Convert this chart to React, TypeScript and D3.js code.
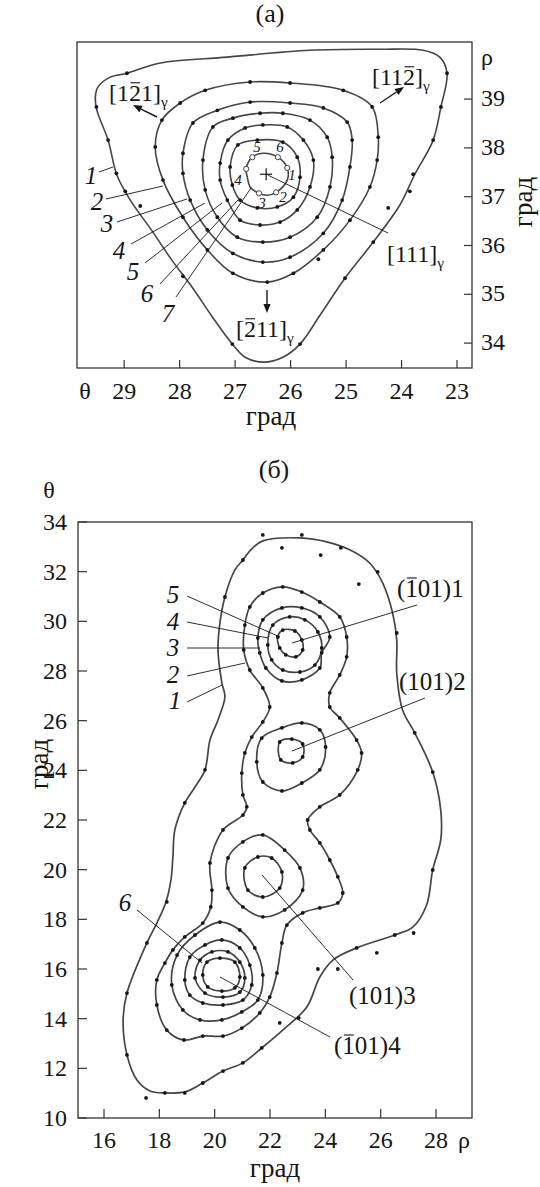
import React, { useLayoutEffect, useRef, useState } from 'react';
import * as d3 from 'd3';

type P = [number, number];

// ---------------- Panel (a): points are [theta, rho] in degrees ----------------
const aXTicks = [29, 28, 27, 26, 25, 24, 23];
const aYTicks = [34, 35, 36, 37, 38, 39];

const aContour1: P[] = [[29.52,39.04],[29.47,39.25],[29.25,39.45],[28.95,39.53],[28.35,39.74],[27.14,39.86],[25.65,40.0],[24.39,40.02],[23.61,40.0],[23.31,39.86],[23.18,39.53],[23.29,38.84],[23.43,38.16],[23.76,37.46],[24.03,36.83],[24.51,36.07],[25.02,35.33],[25.47,34.57],[25.83,33.98],[26.14,33.71],[26.48,33.61],[26.82,33.71],[27.05,33.98],[27.43,34.57],[27.74,35.09],[28.14,35.70],[28.51,36.32],[28.89,36.93],[29.13,37.44],[29.29,38.16],[29.49,38.77]];
const aContour2: P[] = [[28.44,38.02],[28.32,38.57],[27.99,38.92],[27.54,39.18],[26.73,39.35],[26.01,39.33],[25.05,39.18],[24.53,38.84],[24.42,38.22],[24.44,37.75],[24.57,37.20],[24.93,36.52],[25.41,35.91],[25.95,35.43],[26.42,35.25],[27.04,35.43],[27.50,35.91],[27.94,36.58],[28.30,37.34]];
const aContour3: P[] = [[27.94,37.89],[27.76,38.51],[27.32,38.77],[26.73,38.94],[26.01,38.92],[25.41,38.82],[24.98,38.53],[24.89,38.16],[24.93,37.61],[25.07,36.93],[25.41,36.25],[26.01,35.76],[26.50,35.66],[27.04,35.84],[27.50,36.32],[27.81,36.93],[27.94,37.48]];
const aContour4: P[] = [[27.58,37.75],[27.40,38.43],[27.04,38.61],[26.55,38.71],[26.14,38.71],[25.65,38.57],[25.34,38.22],[25.25,37.81],[25.29,37.20],[25.52,36.58],[26.01,36.17],[26.50,36.07],[26.96,36.17],[27.32,36.58],[27.54,37.14]];
const aContour5: P[] = [[27.27,37.69],[27.13,38.16],[26.82,38.41],[26.50,38.47],[26.06,38.43],[25.77,38.16],[25.59,37.75],[25.65,37.20],[25.88,36.73],[26.19,36.48],[26.55,36.42],[26.91,36.52],[27.14,36.93],[27.27,37.34]];
const aContour6: P[] = [[27.09,37.61],[26.95,38.06],[26.60,38.16],[26.14,38.12],[25.88,37.81],[25.83,37.40],[25.95,36.99],[26.24,36.79],[26.60,36.77],[26.91,36.93],[27.05,37.24]];
const aContour7: P[] = [[26.78,37.40],[26.80,37.57],[26.69,37.81],[26.50,37.89],[26.23,37.81],[26.06,37.59],[26.06,37.34],[26.26,37.09],[26.42,37.03],[26.57,37.07],[26.73,37.20]];

const aContour1Dots: P[] = [[28.95,39.53],[29.50,38.84],[29.29,38.16],[29.14,37.48],[28.98,37.11],[27.94,35.37],[27.05,33.98],[25.83,33.98],[25.02,35.33],[24.51,36.07],[23.85,37.11],[23.79,37.46],[23.43,38.16],[23.29,38.84],[23.18,39.53]];
const aExtraDots: P[] = [[28.71,36.81],[24.24,36.77],[25.50,35.72]];
const aMarkers: P[] = [[26.06,37.59],[26.26,37.09],[26.57,37.07],[26.80,37.57],[26.69,37.81],[26.23,37.81]];
const aMarkerNames = ['1', '2', '3', '4', '5', '6'];
const aCenter: P = [26.44, 37.46];

// ---------------- Panel (b): points are [rho, theta] in degrees ----------------
const bXTicks = [16, 18, 20, 22, 24, 26, 28];
const bYTicks = [10, 12, 14, 16, 18, 20, 22, 24, 26, 28, 30, 32, 34];

const bContour1: P[] = [[21.74,33.24],[23.08,33.36],[24.05,33.20],[24.88,32.88],[25.60,32.35],[26.07,31.55],[26.43,30.34],[26.58,29.25],[26.58,27.92],[26.79,26.43],[27.23,25.51],[27.88,23.93],[28.17,22.40],[28.17,21.20],[27.88,19.99],[27.66,18.58],[27.16,17.69],[26.51,17.37],[25.13,16.85],[24.27,16.36],[23.80,15.68],[23.33,14.47],[22.46,13.54],[21.70,12.82],[21.02,12.22],[20.30,11.89],[19.57,11.41],[18.92,11.05],[18.20,11.01],[17.66,11.09],[17.19,11.53],[16.83,12.54],[16.69,13.95],[16.83,15.03],[17.55,17.05],[17.91,17.85],[18.24,18.70],[18.42,19.59],[18.49,20.51],[18.56,21.60],[18.92,22.69],[19.29,23.33],[19.65,24.02],[19.83,25.22],[20.12,26.03],[20.37,26.96],[20.26,27.52],[20.12,28.85],[20.19,29.94],[20.37,30.98],[20.73,32.07],[21.02,32.47],[21.34,32.92]];
const bContour2: P[] = [[21.74,31.14],[22.46,31.39],[23.15,31.18],[23.80,30.78],[24.52,30.18],[24.77,29.37],[24.77,28.57],[24.52,27.84],[24.16,27.12],[24.16,26.55],[24.52,26.11],[25.13,25.22],[25.31,24.70],[25.17,24.02],[24.52,23.01],[23.80,22.53],[23.36,22.00],[23.44,21.60],[23.80,21.08],[24.16,20.39],[24.45,19.71],[24.63,19.06],[24.45,18.66],[23.80,18.46],[23.18,18.26],[22.61,17.77],[22.43,17.05],[22.25,15.84],[21.99,14.87],[21.63,14.23],[20.98,13.62],[20.30,13.30],[19.57,13.30],[18.89,13.14],[18.27,13.54],[17.91,14.55],[17.91,15.56],[18.20,16.24],[18.49,16.77],[18.92,17.29],[19.57,17.85],[19.86,18.50],[19.90,19.18],[19.83,20.27],[20.30,21.60],[21.02,22.20],[21.16,22.53],[21.02,23.01],[20.98,23.89],[21.09,24.70],[21.34,25.34],[21.74,25.95],[21.99,26.55],[21.74,27.32],[21.27,28.04],[21.05,28.85],[21.09,29.85],[21.27,30.58]];
const bPeak1Ring3: P[] = [[21.56,29.33],[21.74,30.06],[22.43,30.54],[23.15,30.54],[23.80,30.18],[24.16,29.37],[23.87,28.73],[23.80,28.12],[23.15,27.64],[22.43,27.60],[21.85,28.12],[21.63,28.73]];
const bPeak1Ring4: P[] = [[21.92,29.05],[22.10,29.85],[22.71,30.18],[23.26,30.06],[23.73,29.57],[23.87,28.93],[23.62,28.24],[23.08,27.96],[22.46,28.04],[22.06,28.45]];
const bPeak1Ring5: P[] = [[22.28,29.37],[22.46,29.65],[22.90,29.61],[23.15,29.25],[23.18,28.85],[22.93,28.57],[22.57,28.65],[22.35,28.93]];
const bPeak2Ring3: P[] = [[21.70,25.30],[22.43,25.71],[23.15,25.91],[23.80,25.63],[24.01,24.94],[23.80,24.02],[23.15,23.49],[22.43,23.17],[21.74,23.53],[21.52,24.34]];
const bPeak2Ring4: P[] = [[22.35,25.14],[22.79,25.26],[23.18,25.06],[23.18,24.54],[22.82,24.30],[22.39,24.42]];
const bPeak3Ring3: P[] = [[20.48,20.47],[21.02,21.12],[21.74,21.40],[22.53,20.79],[23.08,20.07],[23.18,19.18],[22.53,18.38],[21.74,18.10],[21.02,18.50],[20.48,19.26]];
const bPeak3Ring4: P[] = [[21.09,20.07],[21.56,20.51],[22.06,20.47],[22.43,19.91],[22.35,19.26],[21.74,18.90],[21.20,19.18]];
const bPeak4Ring3: P[] = [[18.45,15.36],[18.64,16.56],[19.29,17.37],[20.19,17.89],[20.91,17.57],[21.45,16.85],[21.74,15.76],[21.56,14.75],[20.98,14.27],[20.26,13.95],[19.47,13.95],[18.85,14.35]];
const bPeak4Ring4: P[] = [[18.92,15.56],[19.10,16.48],[19.65,16.97],[20.26,17.17],[20.91,16.85],[21.27,16.16],[21.34,15.36],[21.02,14.75],[20.30,14.55],[19.57,14.63],[19.10,14.95]];
const bPeak4Ring5: P[] = [[19.29,15.64],[19.47,16.36],[19.90,16.69],[20.48,16.69],[20.91,16.28],[21.09,15.64],[20.91,15.07],[20.30,14.87],[19.65,15.03]];
const bPeak4Ring6: P[] = [[19.57,15.76],[19.72,16.28],[20.19,16.44],[20.73,16.28],[20.91,15.68],[20.73,15.24],[20.26,15.11],[19.75,15.28]];

const bContour1Dots: P[] = [[21.02,32.47],[20.37,30.98],[19.65,24.02],[18.92,22.69],[18.27,18.70],[17.55,17.05],[16.83,15.03],[16.83,12.54],[18.20,11.01],[18.92,11.01],[19.57,11.41],[20.30,11.89],[21.02,12.22],[21.70,12.82],[25.13,16.85],[26.51,17.37],[27.88,19.99],[27.88,23.93],[27.23,25.51],[26.58,29.53]];
const bExtraDots: P[] = [[21.74,33.48],[23.15,33.48],[22.43,32.96],[24.56,32.96],[23.83,32.67],[25.89,31.99],[25.21,31.50],[23.73,16.00],[24.45,16.00],[25.86,16.65],[27.19,17.45],[22.35,13.83],[23.04,14.03],[17.52,10.81]];

const FONT = 'Liberation Serif, DejaVu Serif, Times New Roman, serif';
const INK = '#161616';
const CURVE = '#454545';

// Text with overbars on selected character indexes (measured after layout)
function Miller({ x, y, text, bars, sub, size }: { x: number; y: number; text: string; bars: number[]; sub?: string; size: number }) {
  const ref = useRef<SVGTextElement>(null);
  const [segs, setSegs] = useState<[number, number][]>([]);
  useLayoutEffect(() => {
    const el = ref.current;
    if (!el) return;
    try {
      const s = bars.map(i => {
        const a = el.getStartPositionOfChar(i).x;
        const b = el.getEndPositionOfChar(i).x;
        return [a + size * 0.06, b - size * 0.04] as [number, number];
      });
      setSegs(s);
    } catch (e) {
      setSegs([]);
    }
  }, [text, size]);
  const barY = y - size * 0.76;
  return (
    <g>
      <text ref={ref} x={x} y={y} fontSize={size} style={{ fontFamily: FONT }} fill={INK}>
        {text}
        {sub ? <tspan fontSize={size * 0.64} dy={size * 0.24}>{sub}</tspan> : null}
      </text>
      {segs.map((s, i) => (
        <line key={i} x1={s[0]} x2={s[1]} y1={barY} y2={barY} stroke={INK} strokeWidth={1.1} />
      ))}
    </g>
  );
}

function Arrow({ x1, y1, x2, y2 }: { x1: number; y1: number; x2: number; y2: number }) {
  const ang = Math.atan2(y2 - y1, x2 - x1);
  const L = 9, Wd = 3.6;
  const bx = x2 - L * Math.cos(ang), by = y2 - L * Math.sin(ang);
  const px = -Math.sin(ang) * Wd, py = Math.cos(ang) * Wd;
  return (
    <g>
      <line x1={x1} y1={y1} x2={bx} y2={by} stroke={INK} strokeWidth={1.4} />
      <polygon points={`${x2},${y2} ${bx + px},${by + py} ${bx - px},${by - py}`} fill={INK} />
    </g>
  );
}

export default function App() {
  const ax = d3.scaleLinear().domain([29.85, 22.73]).range([77, 472]);
  const ay = d3.scaleLinear().domain([33.49, 40.17]).range([368, 42]);
  const bx = d3.scaleLinear().domain([15.06, 29.3]).range([78, 472]);
  const by = d3.scaleLinear().domain([10, 34]).range([1118, 522]);

  const curve = d3.curveCatmullRomClosed.alpha(0.5);
  const aLine = d3.line<P>().x(d => ax(d[0])).y(d => ay(d[1])).curve(curve);
  const bLine = d3.line<P>().x(d => bx(d[0])).y(d => by(d[1])).curve(curve);

  const aRings = [aContour1, aContour2, aContour3, aContour4, aContour5, aContour6, aContour7];
  const aRingDots = [aContour2, aContour3, aContour4, aContour5, aContour6];
  const bRings = [bContour1, bContour2, bPeak1Ring3, bPeak1Ring4, bPeak1Ring5, bPeak2Ring3, bPeak2Ring4, bPeak3Ring3, bPeak3Ring4, bPeak4Ring3, bPeak4Ring4, bPeak4Ring5, bPeak4Ring6];
  const bRingDots = bRings.slice(1);

  const [ax0, ax1] = ax.range();
  const [ay0, ay1] = ay.range();
  const [bx0, bx1] = bx.range();
  const [by0, by1] = by.range();

  const tickFs = 24;
  const titleFs = 27;
  const numFs = 25;

  const aLabels = [
    { t: '1', x: 91, y: 176, lx1: 99, ly1: 172, lx2: 113, ly2: 167 },
    { t: '2', x: 97, y: 202, lx1: 106, ly1: 199, lx2: 163, ly2: 186 },
    { t: '3', x: 107, y: 224, lx1: 117, ly1: 222, lx2: 187, ly2: 199 },
    { t: '4', x: 119, y: 251, lx1: 131, ly1: 244, lx2: 205, ly2: 203 },
    { t: '5', x: 133, y: 272, lx1: 145, ly1: 263, lx2: 222, ly2: 203 },
    { t: '6', x: 147, y: 294, lx1: 160, ly1: 284, lx2: 238, ly2: 200 },
    { t: '7', x: 168, y: 314, lx1: 176, ly1: 297, lx2: 251, ly2: 188 },
  ];
  const aMarkerLabelPos = [[292, 175], [283, 197], [262, 203], [238, 180], [257, 147], [280, 147]];

  const bLabels = [
    { t: '5', x: 173, y: 595, lx1: 187, ly1: 596, lx2: 280, ly2: 637 },
    { t: '4', x: 173, y: 622, lx1: 187, ly1: 622, lx2: 268, ly2: 638 },
    { t: '3', x: 173, y: 648, lx1: 187, ly1: 648, lx2: 260, ly2: 648 },
    { t: '2', x: 173, y: 675, lx1: 187, ly1: 676, lx2: 245, ly2: 663 },
    { t: '1', x: 175, y: 701, lx1: 187, ly1: 702, lx2: 222, ly2: 685 },
    { t: '6', x: 125, y: 903, lx1: 137, ly1: 910, lx2: 202, ly2: 963 },
  ];

  const acx = ax(aCenter[0]);
  const acy = ay(aCenter[1]);
  const tf = { fontFamily: FONT };

  return (
    <svg width={540} height={1187} style={{ position: 'absolute', left: 0, top: 0, background: '#fff', fontFamily: FONT }}>
      <rect x={0} y={0} width={540} height={1187} fill="#fff" />

      {/* ================= Panel (a) ================= */}
      <text x={270} y={22} textAnchor="middle" fontSize={26} style={tf} fill={INK}>(а)</text>
      <rect x={ax0} y={ay1} width={ax1 - ax0} height={ay0 - ay1} fill="none" stroke="#333" strokeWidth={1.3} />
      {aXTicks.map(t => (
        <g key={'axt' + t}>
          <line x1={ax(t)} x2={ax(t)} y1={ay0} y2={ay0 - 8} stroke="#333" strokeWidth={1.2} />
          <text x={ax(t)} y={399} textAnchor="middle" fontSize={tickFs} style={tf} fill={INK}>{t}</text>
        </g>
      ))}
      {aYTicks.map(t => (
        <g key={'ayt' + t}>
          <line x1={ax1} x2={ax1 - 8} y1={ay(t)} y2={ay(t)} stroke="#333" strokeWidth={1.2} />
          <text x={481} y={ay(t) + 7} fontSize={tickFs} style={tf} fill={INK}>{t}</text>
        </g>
      ))}
      <text x={85} y={399} textAnchor="middle" fontSize={tickFs} style={tf} fill={INK}>θ</text>
      <text x={481} y={65} fontSize={tickFs} style={tf} fill={INK}>ρ</text>
      <text x={271} y={425} textAnchor="middle" fontSize={titleFs} style={tf} fill={INK}>град</text>
      <text transform="translate(524,202) rotate(-90)" textAnchor="middle" dy="0.3em" fontSize={titleFs} style={tf} fill={INK}>град</text>

      {aRings.map((r, i) => (
        <path key={'ar' + i} d={aLine(r) || ''} fill="none" stroke={CURVE} strokeWidth={1.6} />
      ))}
      {aRingDots.flat().concat(aContour1Dots, aExtraDots).map((p, i) => (
        <circle key={'ad' + i} cx={ax(p[0])} cy={ay(p[1])} r={1.9} fill={INK} />
      ))}
      {aMarkers.map((p, i) => (
        <circle key={'am' + i} cx={ax(p[0])} cy={ay(p[1])} r={2.6} fill="#fff" stroke="#444" strokeWidth={1} />
      ))}
      {aMarkerNames.map((n, i) => (
        <text key={'amn' + i} x={aMarkerLabelPos[i][0]} y={aMarkerLabelPos[i][1] + 5} textAnchor="middle" fontSize={15} fontStyle="italic" style={tf} fill={INK}>{n}</text>
      ))}
      <line x1={acx - 6} x2={acx + 6} y1={acy} y2={acy} stroke={INK} strokeWidth={1.2} />
      <line x1={acx} x2={acx} y1={acy - 6} y2={acy + 6} stroke={INK} strokeWidth={1.2} />
      <line x1={acx + 2} y1={acy + 1} x2={388} y2={233} stroke={INK} strokeWidth={0.9} />
      <Miller x={387} y={262} text="[111]" bars={[]} sub="γ" size={24} />

      {aLabels.map(l => (
        <g key={'al' + l.t}>
          <text x={l.x} y={l.y + 8} textAnchor="middle" fontSize={numFs} fontStyle="italic" style={tf} fill={INK}>{l.t}</text>
          <line x1={l.lx1} y1={l.ly1} x2={l.lx2} y2={l.ly2} stroke={INK} strokeWidth={0.9} />
        </g>
      ))}

      <Miller x={109} y={101} text="[121]" bars={[2]} sub="γ" size={24} />
      <Arrow x1={157} y1={117} x2={133} y2={105} />
      <Miller x={372} y={85} text="[112]" bars={[3]} sub="γ" size={24} />
      <Arrow x1={380} y1={103} x2={404} y2={87} />
      <Miller x={236} y={337} text="[211]" bars={[1]} sub="γ" size={24} />
      <Arrow x1={267} y1={290} x2={267} y2={313} />

      {/* ================= Panel (b) ================= */}
      <text x={274} y={478} textAnchor="middle" fontSize={26} style={tf} fill={INK}>(б)</text>
      <rect x={bx0} y={by1} width={bx1 - bx0} height={by0 - by1} fill="none" stroke="#333" strokeWidth={1.3} />
      {bXTicks.map(t => (
        <g key={'bxt' + t}>
          <line x1={bx(t)} x2={bx(t)} y1={by0} y2={by0 - 9} stroke="#333" strokeWidth={1.2} />
          <text x={bx(t)} y={1148} textAnchor="middle" fontSize={tickFs} style={tf} fill={INK}>{t}</text>
        </g>
      ))}
      {bYTicks.map(t => (
        <g key={'byt' + t}>
          <line x1={bx0} x2={bx0 + 9} y1={by(t)} y2={by(t)} stroke="#333" strokeWidth={1.2} />
          <text x={67} y={by(t) + 8} textAnchor="end" fontSize={tickFs} style={tf} fill={INK}>{t}</text>
        </g>
      ))}
      <text x={49} y={498} textAnchor="middle" fontSize={tickFs} style={tf} fill={INK}>θ</text>
      <text x={458} y={1148} fontSize={tickFs} style={tf} fill={INK}>ρ</text>
      <text x={275} y={1177} textAnchor="middle" fontSize={titleFs} style={tf} fill={INK}>град</text>
      <text transform="translate(40,764) rotate(-90)" textAnchor="middle" dy="0.3em" fontSize={titleFs} style={tf} fill={INK}>град</text>

      {bRings.map((r, i) => (
        <path key={'br' + i} d={bLine(r) || ''} fill="none" stroke={CURVE} strokeWidth={1.7} />
      ))}
      {bRingDots.flat().concat(bContour1Dots, bExtraDots).map((p, i) => (
        <circle key={'bd' + i} cx={bx(p[0])} cy={by(p[1])} r={1.9} fill={INK} />
      ))}

      {bLabels.map(l => (
        <g key={'bl' + l.t}>
          <text x={l.x} y={l.y + 8} textAnchor="middle" fontSize={numFs} fontStyle="italic" style={tf} fill={INK}>{l.t}</text>
          <line x1={l.lx1} y1={l.ly1} x2={l.lx2} y2={l.ly2} stroke={INK} strokeWidth={0.9} />
        </g>
      ))}

      <line x1={292} y1={643} x2={417} y2={605} stroke={INK} strokeWidth={0.9} />
      <Miller x={397} y={597} text="(101)1" bars={[1]} size={25} />
      <line x1={292} y1={751} x2={425} y2={698} stroke={INK} strokeWidth={0.9} />
      <Miller x={399} y={690} text="(101)2" bars={[]} size={25} />
      <line x1={262} y1={875} x2={353} y2={980} stroke={INK} strokeWidth={0.9} />
      <Miller x={349} y={1004} text="(101)3" bars={[]} size={25} />
      <line x1={220} y1={977} x2={330} y2={1037} stroke={INK} strokeWidth={0.9} />
      <Miller x={334} y={1054} text="(101)4" bars={[1]} size={25} />
    </svg>
  );
}
